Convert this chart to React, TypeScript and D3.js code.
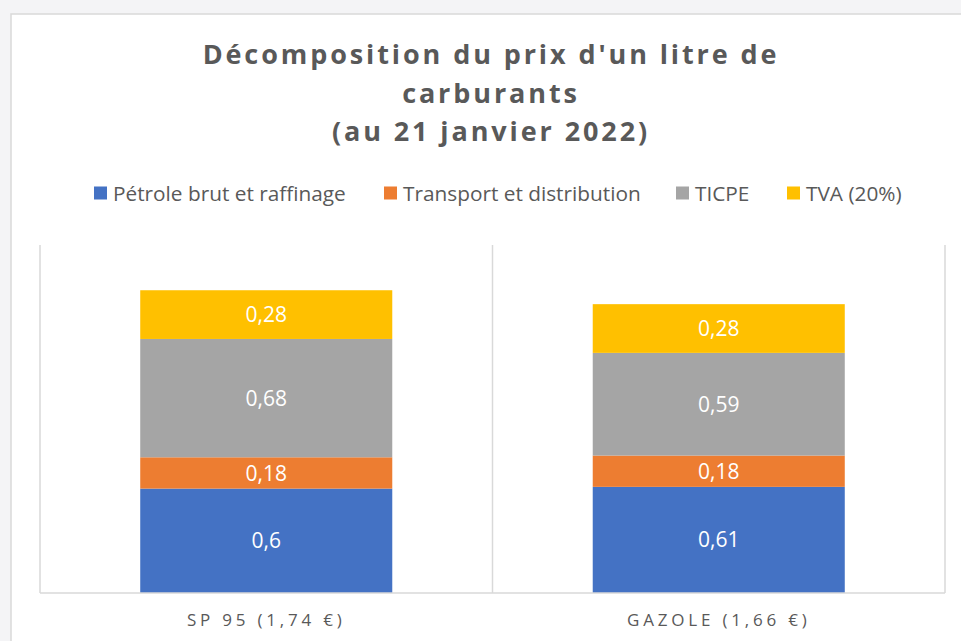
import React, { useEffect, useRef } from 'react';
import * as d3 from 'd3';

const categories = ['SP 95 (1,74 €)', 'GAZOLE (1,66 €)'];
const seriesNames = ['Pétrole brut et raffinage', 'Transport et distribution', 'TICPE', 'TVA (20%)'];
const seriesColors = ['#4472c4', '#ed7d31', '#a5a5a5', '#ffc000'];
const petrole = [0.6, 0.61];
const transport = [0.18, 0.18];
const ticpe = [0.68, 0.59];
const tva = [0.28, 0.28];
const titleLines = ["Décomposition du prix d'un litre de", 'carburants', '(au 21 janvier 2022)'];

const App = () => {
  const svgRef = useRef<SVGSVGElement>(null);

  useEffect(() => {
    if (!svgRef.current) return;
    const svg = d3.select(svgRef.current);
    svg.selectAll('*').remove();

    const W = 961, H = 641;
    const margin = { top: 245, right: 16, bottom: 48, left: 40 };
    const plotW = W - margin.left - margin.right;
    const plotH = H - margin.top - margin.bottom;
    const font = "'Open Sans', 'Noto Sans', sans-serif";

    // background + chart frame
    svg.append('rect').attr('width', W).attr('height', H).attr('fill', '#f4f4f6');
    svg.append('rect')
      .attr('x', 11).attr('y', 14).attr('width', W).attr('height', H)
      .attr('fill', '#fff').attr('stroke', '#d9d9d9').attr('stroke-width', 1.5);

    // title
    const title = svg.append('text')
      .attr('text-anchor', 'middle')
      .style('font-family', font).style('font-weight', 700).style('font-size', '27px')
      .style('letter-spacing', '2.9px').attr('fill', '#595959');
    titleLines.forEach((t, i) => {
      title.append('tspan').attr('x', 491).attr('y', 64 + i * 38.5).text(t);
    });

    // legend
    const legendX = [94, 384, 676, 787];
    const legend = svg.append('g');
    seriesNames.forEach((name, i) => {
      const g = legend.append('g').attr('transform', `translate(${legendX[i]}, 193)`);
      g.append('rect').attr('x', 0).attr('y', -6.5).attr('width', 13).attr('height', 13).attr('fill', seriesColors[i]);
      g.append('text').attr('x', 19).attr('y', 7.5)
        .style('font-family', font).style('font-size', '20.8px').attr('fill', '#595959').text(name);
    });

    const x = d3.scaleBand().domain(categories).range([0, plotW]).paddingInner(0.443).paddingOuter(0.2215);
    const cat = d3.scaleBand().domain(categories).range([0, plotW]);
    const y = d3.scaleLinear().domain([0, 2]).range([plotH, 0]);

    const plot = svg.append('g').attr('transform', `translate(${margin.left}, ${margin.top})`);

    // vertical separators
    const seps = [0, ...categories.map(c => (cat(c) as number) + cat.bandwidth())];
    plot.selectAll('line.sep').data(seps).enter().append('line')
      .attr('class', 'sep')
      .attr('x1', d => d).attr('x2', d => d).attr('y1', 0).attr('y2', plotH)
      .attr('stroke', '#d9d9d9').attr('stroke-width', 1.5);

    const table = categories.map((c, i) => ({
      cat: c, petrole: petrole[i], transport: transport[i], ticpe: ticpe[i], tva: tva[i],
    }));
    const keys = ['petrole', 'transport', 'ticpe', 'tva'];
    const stacked = d3.stack<any>().keys(keys)(table);

    stacked.forEach((layer, li) => {
      const g = plot.append('g');
      g.selectAll('rect').data(layer).enter().append('rect')
        .attr('x', d => x(d.data.cat) as number)
        .attr('y', d => y(d[1]))
        .attr('width', x.bandwidth())
        .attr('height', d => y(d[0]) - y(d[1]))
        .attr('fill', seriesColors[li]);
      g.selectAll('text').data(layer).enter().append('text')
        .attr('x', d => (x(d.data.cat) as number) + x.bandwidth() / 2)
        .attr('y', d => (y(d[0]) + y(d[1])) / 2)
        .attr('dy', '0.36em')
        .attr('text-anchor', 'middle')
        .style('font-family', font).style('font-size', '21px').attr('fill', '#fff')
        .text(d => String(+(d[1] - d[0]).toFixed(2)).replace('.', ','));
    });

    // x axis line
    plot.append('line').attr('x1', 0).attr('x2', plotW).attr('y1', plotH).attr('y2', plotH)
      .attr('stroke', '#d9d9d9').attr('stroke-width', 1.5);

    plot.selectAll('text.cat').data(categories).enter().append('text')
      .attr('class', 'cat')
      .attr('x', d => (cat(d) as number) + cat.bandwidth() / 2)
      .attr('y', plotH + 33)
      .attr('text-anchor', 'middle')
      .style('font-family', font).style('font-size', '17px').style('letter-spacing', '3.8px')
      .attr('fill', '#595959')
      .text(d => d);
  }, []);

  return (
    <svg ref={svgRef} width={961} height={641} style={{ position: 'absolute', left: 0, top: 0, display: 'block' }}></svg>
  );
};

export default App;
